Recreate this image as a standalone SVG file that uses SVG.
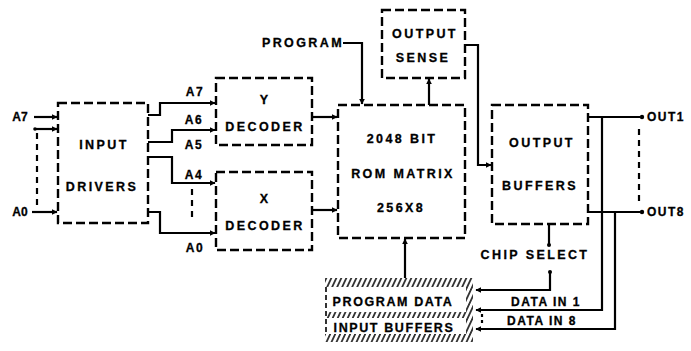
<svg xmlns="http://www.w3.org/2000/svg" width="691" height="351" viewBox="0 0 691 351">
<style>
.box{fill:#fff;stroke:#000;stroke-width:2.4;stroke-dasharray:9 4}
.ln{fill:none;stroke:#000;stroke-width:2.2}
.dl{fill:none;stroke:#000;stroke-width:2.2;stroke-dasharray:6 5}
text{font-family:"Liberation Sans",Arial,sans-serif;font-weight:bold;font-size:12.5px;letter-spacing:2.4px;fill:#000;stroke:#000;stroke-width:0.3;text-anchor:middle}
.lab{font-size:12px;letter-spacing:1.5px}
</style>
<defs>
<marker id="ah" viewBox="0 0 10 10" refX="9" refY="5" markerWidth="6" markerHeight="6" orient="auto" markerUnits="userSpaceOnUse">
<path d="M0,0 L10,5 L0,10 z" fill="#000"/>
</marker>
<pattern id="hatch" width="5" height="10" patternUnits="userSpaceOnUse" patternTransform="skewX(-25)">
<rect width="5" height="10" fill="#fff"/>
<line x1="1" y1="0" x2="1" y2="10" stroke="#000" stroke-width="1.6"/>
</pattern>
</defs>

<g id="connectors">
<path class="ln" d="M34,117 H57" marker-end="url(#ah)"/>
<circle cx="35" cy="129" r="1.8"/>
<path class="ln" d="M36,129 H57" marker-end="url(#ah)"/>
<path class="dl" d="M37,133 V208"/>
<path class="ln" d="M32,212 H57" marker-end="url(#ah)"/>
<path class="ln" d="M148,115 H160 V103 H215" marker-end="url(#ah)"/>
<path class="ln" d="M148,142 H172 V130 H215" marker-end="url(#ah)"/>
<path class="ln" d="M148,157 H172 V183 H215" marker-end="url(#ah)"/>
<path class="dl" d="M192,189 V222"/>
<path class="ln" d="M148,212 H160 V233 H215" marker-end="url(#ah)"/>
<path class="ln" d="M312,117 H337" marker-end="url(#ah)"/>
<path class="ln" d="M312,210 H337" marker-end="url(#ah)"/>
<path class="ln" d="M343,43 H362 V104" marker-end="url(#ah)"/>
<path class="ln" d="M429,105 V79" marker-end="url(#ah)"/>
<path class="ln" d="M465,45 H478 V165 H491" marker-end="url(#ah)"/>
<path class="ln" d="M588,117 H640"/>
<circle cx="642" cy="117" r="2.2"/>
<path class="ln" d="M588,212 H640"/>
<circle cx="642" cy="212" r="2.2"/>
<path class="dl" d="M639,129 V204"/>
<path class="ln" d="M602,117 V310 H476" marker-end="url(#ah)"/>
<path class="ln" d="M615,212 V329 H476" marker-end="url(#ah)"/>
<path class="ln" d="M549,225 V245"/>
<circle cx="549" cy="245" r="2"/>
<circle cx="550" cy="272" r="2"/>
<path class="ln" d="M550,272 V290 H476" marker-end="url(#ah)"/>
<path class="ln" d="M405,278 V239" marker-end="url(#ah)"/>
<path class="dl" d="M482,314 V326" style="stroke-dasharray:3 3"/>
</g>

<g id="input-drivers">
<rect class="box" x="58" y="103" width="90" height="120"/>
<text x="104" y="149">INPUT</text>
<text x="102" y="191">DRIVERS</text>
</g>

<g id="y-decoder">
<rect class="box" x="216" y="78" width="96" height="67"/>
<text x="265" y="104">Y</text>
<text x="265" y="131">DECODER</text>
</g>

<g id="x-decoder">
<rect class="box" x="216" y="172" width="96" height="78"/>
<text x="265" y="203">X</text>
<text x="265" y="230">DECODER</text>
</g>

<g id="rom-matrix">
<rect class="box" x="338" y="105" width="127" height="133"/>
<text x="402" y="143">2048 BIT</text>
<text x="403" y="178">ROM MATRIX</text>
<text x="401" y="212">256X8</text>
</g>

<g id="output-sense">
<rect class="box" x="382" y="10" width="83" height="68"/>
<text x="425" y="38">OUTPUT</text>
<text x="423" y="62">SENSE</text>
</g>

<g id="output-buffers">
<rect class="box" x="492" y="105" width="96" height="119"/>
<text x="542" y="147">OUTPUT</text>
<text x="540" y="190">BUFFERS</text>
</g>

<g id="program-data-input-buffers">
<rect x="325" y="278" width="148" height="9" fill="url(#hatch)"/>
<rect x="326" y="312" width="140" height="6" fill="url(#hatch)"/>
<rect x="325" y="334" width="148" height="8" fill="url(#hatch)"/>
<rect x="466" y="287" width="7" height="47" fill="url(#hatch)"/>
<path class="dl" d="M326,287 V334" style="stroke-width:1.6;stroke-dasharray:5 3"/>
<text x="393" y="306" style="letter-spacing:1.6px">PROGRAM DATA</text>
<text x="394" y="332" style="letter-spacing:1.6px">INPUT BUFFERS</text>
</g>

<g id="labels">
<text x="20" y="121" class="lab" style="letter-spacing:0">A7</text>
<text x="20" y="216" class="lab" style="letter-spacing:0">A0</text>
<text x="195" y="96" class="lab">A7</text>
<text x="194" y="124" class="lab">A6</text>
<text x="194" y="149" class="lab">A5</text>
<text x="194" y="179" class="lab">A4</text>
<text x="195" y="252" class="lab">A0</text>
<text x="303" y="47">PROGRAM</text>
<text x="666" y="121" class="lab">OUT1</text>
<text x="666" y="216" class="lab">OUT8</text>
<text x="535" y="259">CHIP SELECT</text>
<text x="546" y="306" class="lab">DATA IN 1</text>
<text x="542" y="325" class="lab">DATA IN 8</text>
</g>
</svg>
